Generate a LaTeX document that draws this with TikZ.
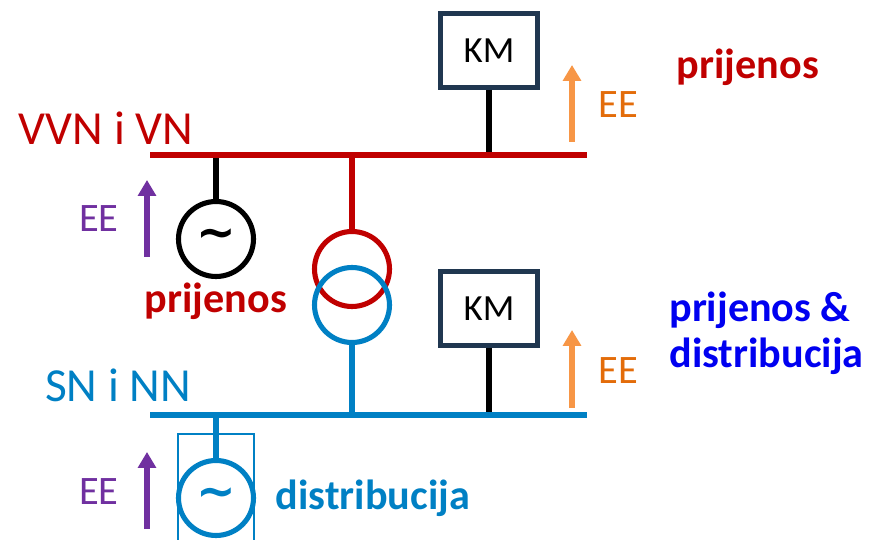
\documentclass[tikz,border=0pt]{standalone}
\usepackage{xcolor}
\usepackage{fontspec}
\setmainfont{Carlito}
\newfontfamily\tildefont{DejaVu Sans}
\usepackage{tikz}
\usetikzlibrary{arrows.meta}
\definecolor{vvnred}{HTML}{C00000}
\definecolor{snblue}{HTML}{0080C4}
\definecolor{kmnavy}{HTML}{203750}
\definecolor{eeorange}{HTML}{F79646}
\definecolor{eetext}{HTML}{E36C0A}
\definecolor{eepurple}{HTML}{7030A0}
\definecolor{purelblue}{HTML}{0000F0}
\newcommand{\acsign}{{\tildefont\bfseries\fontsize{27}{27}\selectfont\char"7E}}
\begin{document}
\begin{tikzpicture}[x=0.02cm, y=-0.02cm,
	bus/.style={line width=2.9pt},
	wire/.style={line width=2.9pt},
	ring/.style={draw, circle, line width=2.9pt, minimum size=1.5cm, inner sep=0pt},
	kmbox/.style={draw=kmnavy, line width=2.6pt, minimum width=1.93cm, minimum height=1.47cm, inner sep=0pt, font=\fontsize{21}{21}\selectfont},
	eearrow/.style={-{Triangle[length=9pt,width=10pt]}, line width=2.9pt},
	lbl/.style={inner sep=0pt, font=\fontsize{27}{27}\selectfont},
	eelbl/.style={inner sep=0pt, font=\fontsize{23}{23}\selectfont},
	zone/.style={inner sep=0pt, font=\bfseries\fontsize{24}{24}\selectfont}]
	\useasboundingbox (0, 0) rectangle (878, 540);

	% busbars
	\coordinate (redL) at (150, 155);
	\coordinate (redR) at (587, 155);
	\coordinate (blueL) at (150, 415);
	\coordinate (blueR) at (587, 415);
	\coordinate (tapG1) at (216, 155);
	\coordinate (tapT1) at (352, 155);
	\coordinate (tapK1) at (489, 155);
	\coordinate (tapG2) at (216, 415);
	\coordinate (tapT2) at (352, 415);
	\coordinate (tapK2) at (489, 415);

	% equipment
	\node[kmbox] (KM1) at (489, 50.5) {KM};
	\node[kmbox] (KM2) at (489, 308.5) {KM};
	\node[ring, draw=black] (G1) at (216, 239) {\acsign};
	\node[ring, draw=vvnred] (T1) at (352, 269) {};
	\node[ring, draw=snblue] (T2) at (352, 305) {};
	\node[ring, draw=snblue, text=snblue] (G2) at (216, 498) {\acsign};

	% connectors
	\draw[wire, black] (KM1) -- (tapK1);
	\draw[wire, black] (KM2) -- (tapK2);
	\draw[wire, black] (tapG1) -- (G1);
	\draw[wire, vvnred] (tapT1) -- (T1);
	\draw[wire, snblue] (T2) -- (tapT2);
	\draw[wire, snblue] (tapG2) -- (G2);
	\draw[bus, vvnred] (redL) -- (redR);
	\draw[bus, snblue] (blueL) -- (blueR);
	\draw[snblue, line width=0.8pt] (178, 540) |- (254, 434) -- (254, 540);

	% energy arrows
	\coordinate (a1) at (572, 142);
	\coordinate (a2) at (572, 65);
	\coordinate (b1) at (572, 408);
	\coordinate (b2) at (572, 330);
	\coordinate (c1) at (147, 257);
	\coordinate (c2) at (147, 180);
	\coordinate (d1) at (147, 529);
	\coordinate (d2) at (147, 452);
	\draw[eearrow, eeorange] (a1) -- (a2);
	\draw[eearrow, eeorange] (b1) -- (b2);
	\draw[eearrow, eepurple] (c1) -- (c2);
	\draw[eearrow, eepurple] (d1) -- (d2);

	% labels
	\node[lbl, text=vvnred] (vvn) at (106, 128) {VVN i VN};
	\node[lbl, text=snblue] (sn) at (118, 385) {SN i NN};
	\node[eelbl, text=eetext] (ee1) at (618, 105) {EE};
	\node[eelbl, text=eetext] (ee2) at (618, 371) {EE};
	\node[eelbl, text=eepurple] (ee3) at (99, 219) {EE};
	\node[eelbl, text=eepurple] (ee4) at (99, 492) {EE};
	\node[zone, text=vvnred] (pr1) at (748, 67) {prijenos};
	\node[zone, text=vvnred] (pr2) at (216, 301) {prijenos};
	\node[zone, text=purelblue, align=left, anchor=west] (pd) at (669, 333) {prijenos \&\\[2pt]distribucija};
	\node[zone, text=snblue] (di) at (373, 498) {distribucija};
\end{tikzpicture}
\end{document}
